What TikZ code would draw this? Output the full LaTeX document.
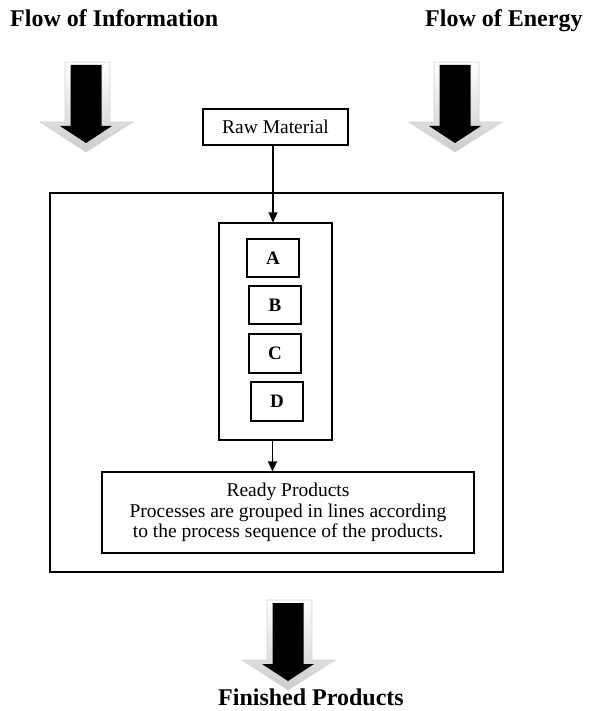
\documentclass[tikz,border=0pt]{standalone}
\usepackage{fontspec}
\setmainfont{Liberation Serif}
\usetikzlibrary{arrows.meta,calc}
\tikzset{
  box/.style={draw, line width=1.1pt, inner sep=0pt, rectangle},
  bodytext/.style={font=\fontsize{19.5}{20.5}\selectfont},
  lettertext/.style={font=\fontsize{19}{22}\selectfont\bfseries},
  headtext/.style={font=\fontsize{24}{28}\selectfont\bfseries, inner sep=0pt},
  arr/.style={line width=1.2pt, -{Triangle[length=10pt,width=9pt]}},
  flowarrow/.pic={
    \path[top color=white, bottom color=gray!40, draw=gray!35, line width=0.6pt]
      (-21,-3) -- (24,-3) -- (24,57) -- (47,57) -- (0,87) -- (-46,57) -- (-21,57) -- cycle;
    \fill[black] (-15.5,0) -- (15.5,0) -- (15.5,61) -- (26,61) -- (0,78) -- (-26,61) -- (-15.5,61) -- cycle;
  }
}
\begin{document}
\begin{tikzpicture}[x=1pt,y=-1pt]
\useasboundingbox (0,0) rectangle (591,711);
% headings
\node[headtext, anchor=base west] (finfo) at (10,27) {Flow of Information};
\node[headtext, anchor=base west] (fenergy) at (425,27) {Flow of Energy};
\node[headtext, anchor=base west] (fprod) at (218,705) {Finished Products};
% big arrows
\pic at (86,65) {flowarrow};
\pic at (455,65) {flowarrow};
\pic at (288,603) {flowarrow};
% boxes
\node[box, minimum width=453pt, minimum height=379pt] (outer) at (276.5,382.5) {};
\node[box, bodytext, minimum width=145pt, minimum height=36pt] (raw) at (275.5,127) {Raw Material\hspace{14pt}};
\node[box, minimum width=113pt, minimum height=217pt] (inner) at (275.5,331.5) {};
\node[box, lettertext, minimum width=52pt, minimum height=38pt] (a) at (273,258) {A};
\node[box, lettertext, minimum width=52pt, minimum height=38pt] (b) at (275,305) {B};
\node[box, lettertext, minimum width=52pt, minimum height=39pt] (c) at (275,353.5) {C};
\node[box, lettertext, minimum width=52pt, minimum height=39pt] (d) at (277,401.5) {D};
\node[box, bodytext, align=center, minimum width=372pt, minimum height=81pt] (ready) at (288,512.5)
  {Ready Products\\Processes are grouped in lines according\\to the process sequence of the products.};
% connectors
\draw[arr] ([xshift=-2.5pt]raw.south) -- ([xshift=-2.5pt]raw.south |- inner.north);
\draw[arr] ([xshift=-3pt]inner.south) -- ([xshift=-3pt]inner.south |- ready.north);
\end{tikzpicture}
\end{document}
